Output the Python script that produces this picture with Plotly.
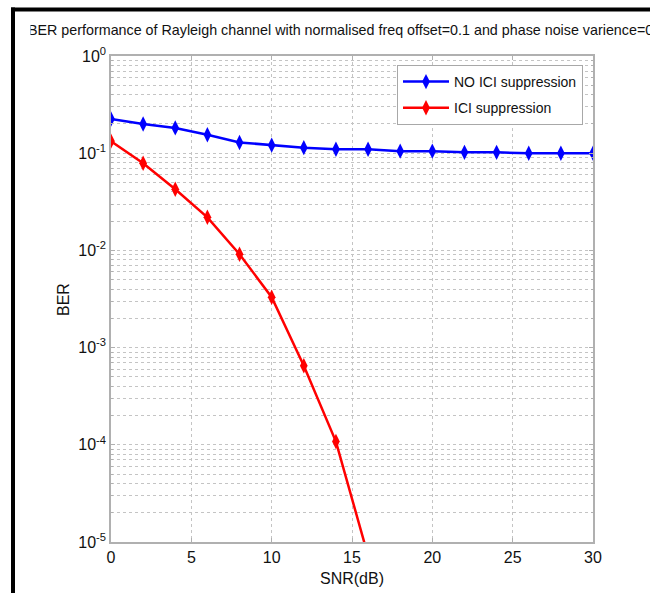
import plotly.graph_objects as go

# SNR sweep (dB) and measured bit error rates
snr_db = [0, 2, 4, 6, 8, 10, 12, 14, 16, 18, 20, 22, 24, 26, 28, 30]
ber_no_ici = [0.225, 0.200, 0.182, 0.155, 0.129, 0.121, 0.114, 0.110,
              0.110, 0.105, 0.105, 0.102, 0.102, 0.100, 0.100, 0.100]

snr_db_ici = [0, 2, 4, 6, 8, 10, 12, 14, 16]
ber_ici = [0.133, 0.0787, 0.0425, 0.0219, 0.00912, 0.0033, 6.5e-4, 1.08e-4, 7.2e-6]

x_tick_vals = [0, 5, 10, 15, 20, 25, 30]
y_exponents = [0, -1, -2, -3, -4, -5]

title_text = ("BER performance of Rayleigh channel with normalised freq "
              "offset=0.1 and phase noise varience=0")
x_label = "SNR(dB)"
y_label = "BER"
series_names = ["NO ICI suppression", "ICI suppression"]

W, H = 650, 593
L, R, T, B = 111, 593, 56, 542

FONT = "Liberation Sans, Arial, Helvetica, sans-serif"
INK = "#111111"
GRID = "#c4c4c4"
AXIS = "#b0b0b0"


def px_x(p):
    return (p - L) / (R - L)


def px_y(p):
    return (B - p) / (B - T)


fig = go.Figure()
fig.add_trace(go.Scatter(
    x=snr_db, y=ber_no_ici, mode="lines+markers", name=series_names[0],
    legendgroup="a",
    line=dict(color="#0000ff", width=2.5),
    marker=dict(symbol="diamond-tall", size=11, color="#0000ff"),
))
fig.add_trace(go.Scatter(
    x=snr_db_ici, y=ber_ici, mode="lines+markers", name=series_names[1],
    legendgroup="b",
    line=dict(color="#ff0000", width=2.5),
    marker=dict(symbol="diamond-tall", size=11, color="#ff0000"),
))

minor_vals = [k * 10.0 ** e for e in range(-5, 0) for k in range(2, 10)]

fig.update_xaxes(
    range=[0, 30], tickvals=x_tick_vals, ticks="inside", ticklen=4,
    tickcolor=AXIS, showline=True, linecolor=AXIS, linewidth=1.5, mirror="ticks",
    showgrid=True, gridcolor=GRID, griddash="dot", gridwidth=1, zeroline=False,
    tickfont=dict(family=FONT, size=16, color=INK),
)
fig.update_yaxes(
    type="log", range=[-5, 0],
    tickvals=[10.0 ** e for e in y_exponents],
    ticktext=["10<sup>%d</sup>" % e for e in y_exponents],
    ticks="inside", ticklen=4, tickcolor=AXIS,
    showline=True, linecolor=AXIS, linewidth=1.5, mirror="ticks",
    showgrid=True, gridcolor=GRID, griddash="dot", gridwidth=1, zeroline=False,
    tickfont=dict(family=FONT, size=16, color=INK),
    minor=dict(tickvals=minor_vals, ticks="inside", ticklen=2, tickcolor=AXIS,
               showgrid=True, gridcolor=GRID, griddash="dot", gridwidth=1),
)

fig.update_layout(
    width=W, height=H,
    margin=dict(l=L, r=W - R, t=T, b=H - B, pad=0),
    paper_bgcolor="white", plot_bgcolor="white",
    font=dict(family=FONT, size=16, color=INK),
    legend=dict(
        x=px_x(397), y=px_y(65), xanchor="left", yanchor="top",
        bgcolor="white", bordercolor="#a8a8a8", borderwidth=1,
        tracegroupgap=5, itemwidth=46,
        font=dict(family=FONT, size=14, color=INK),
    ),
    annotations=[
        dict(text=title_text, xref="paper", yref="paper",
             x=px_x(26), y=px_y(30), xanchor="left", yanchor="middle",
             showarrow=False, font=dict(family=FONT, size=14.3, color=INK)),
        # window edge trimming the first letter of the title
        dict(text=" ", xref="paper", yref="paper",
             x=px_x(25), y=px_y(30), xanchor="left", yanchor="middle",
             width=4, height=20, borderpad=0, bgcolor="white",
             showarrow=False, font=dict(family=FONT, size=14, color=INK)),
        dict(text=x_label, xref="paper", yref="paper",
             x=px_x(352), y=px_y(578), xanchor="center", yanchor="middle",
             showarrow=False, font=dict(family=FONT, size=16, color=INK)),
        dict(text=y_label, xref="paper", yref="paper",
             x=px_x(63), y=px_y(300), xanchor="center", yanchor="middle",
             textangle=-90, showarrow=False,
             font=dict(family=FONT, size=16, color=INK)),
    ],
    shapes=[
        dict(type="line", xref="paper", yref="paper",
             x0=px_x(11), x1=px_x(660), y0=px_y(9.5), y1=px_y(9.5),
             line=dict(color="black", width=4)),
        dict(type="line", xref="paper", yref="paper",
             x0=px_x(13), x1=px_x(13), y0=px_y(7.5), y1=px_y(600),
             line=dict(color="black", width=4)),
    ],
)

fig.write_html("out.html")
